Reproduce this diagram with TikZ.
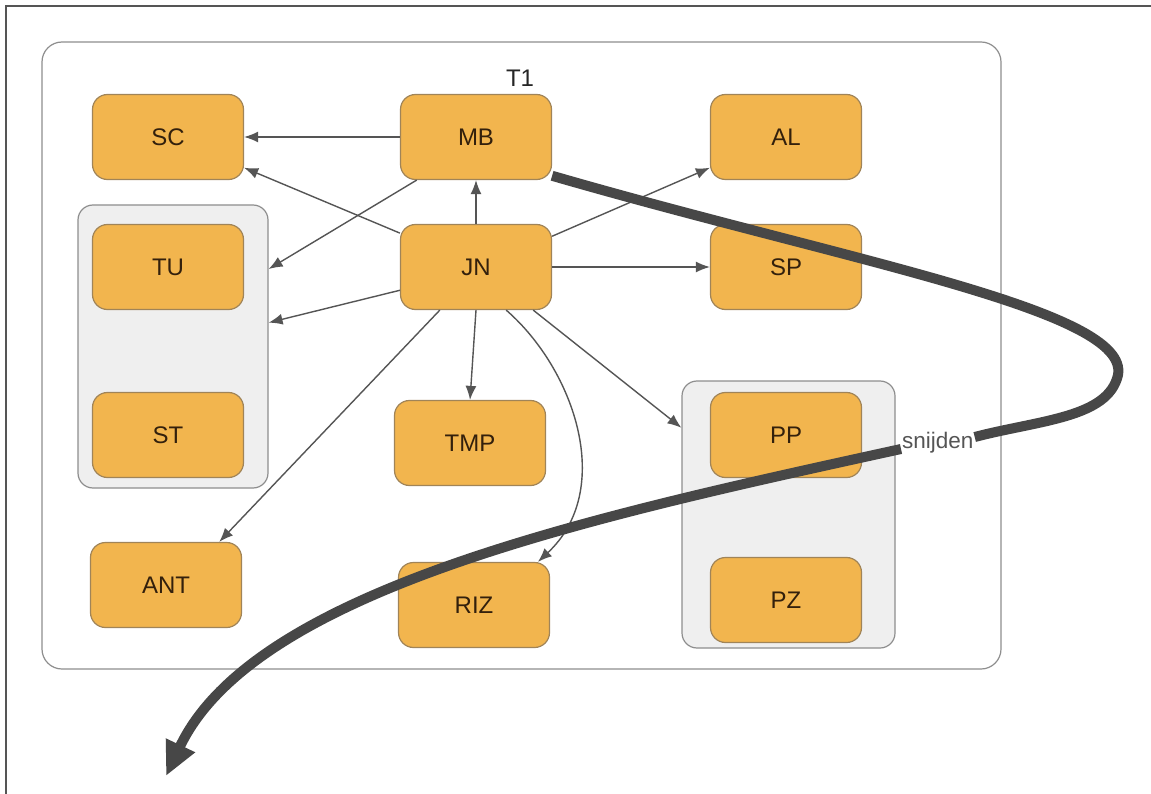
\documentclass[tikz,border=0pt]{standalone}
\usepackage{fontspec}
\setmainfont{Liberation Sans}
\usetikzlibrary{arrows.meta}
\definecolor{boxfill}{HTML}{F2B54E}
\definecolor{boxline}{HTML}{A08458}
\definecolor{boxtext}{HTML}{33200C}
\definecolor{grpfill}{HTML}{EFEFEF}
\definecolor{grpline}{HTML}{8E8E8E}
\definecolor{edgecol}{HTML}{555555}
\definecolor{thickcol}{HTML}{474747}
\tikzset{
  tnode/.style={draw=boxline, line width=1.2pt, fill=boxfill, rounded corners=15pt,
    minimum width=151pt, minimum height=85pt, inner sep=0pt, text=boxtext,
    font=\fontsize{24}{28}\selectfont},
  grp/.style={draw=grpline, line width=1.2pt, fill=grpfill, rounded corners=15pt, inner sep=0pt},
  edge/.style={draw=edgecol, line width=1.4pt, -{Latex[length=14pt,width=11pt]}},
  cutline/.style={draw=thickcol, line width=10pt},
}
\begin{document}
\begin{tikzpicture}[x=1pt,y=-1pt]
\useasboundingbox (0,0) rectangle (1151,794);
\fill[white] (0,0) rectangle (1151,794);
% frame
\draw[edgecol, line width=1.5pt] (6,794) -- (6,6) -- (1151,6);
% outer container
\draw[grpline, line width=1.2pt, rounded corners=20pt] (42,42) rectangle (1001,669);
\node[font=\fontsize{24}{28}\selectfont, text=black!85] (T1) at (520,78) {T1};
% groups
\node[grp, minimum width=190pt, minimum height=283pt] (grpL) at (173,346.5) {};
\node[grp, minimum width=213pt, minimum height=267pt] (grpR) at (788.5,514.5) {};
% nodes
\node[tnode] (SC) at (168,137) {SC};
\node[tnode] (MB) at (476,137) {MB};
\node[tnode] (AL) at (786,137) {AL};
\node[tnode] (TU) at (168,267) {TU};
\node[tnode] (JN) at (476,267) {JN};
\node[tnode] (SP) at (786,267) {SP};
\node[tnode] (ST) at (168,435) {ST};
\node[tnode] (TMP) at (470,443) {TMP};
\node[tnode] (PP) at (786,435) {PP};
\node[tnode] (ANT) at (166,585) {ANT};
\node[tnode] (RIZ) at (474,605) {RIZ};
\node[tnode] (PZ) at (786,600) {PZ};
% edges
\draw[edge] (MB.west) -- (SC.east);
\draw[edge] (JN.156) -- (SC.-22);
\draw[edge] (MB.-144) -- (grpL.39);
\draw[edge] (JN.197) -- (grpL.14);
\draw[edge] (JN.north) -- (MB.south);
\draw[edge] (JN.22) -- (AL.202);
\draw[edge] (JN.east) -- (SP.west);
\draw[edge] (JN.south) -- (TMP.north);
\draw[edge] (JN.-37) -- (grpR.141);
\draw[edge] (JN.-130) -- (ANT.39);
\draw[edge] (JN.-55) .. controls (575,370) and (615,490) .. (RIZ.34);
% thick cut curve
\node[font=\fontsize{22.5}{26}\selectfont, text=edgecol, inner sep=1pt, anchor=west] (cut) at (901,443) {snijden};
\coordinate (turn) at (1118,375);
\coordinate (tip) at (166,776);
\draw[cutline] (MB.-27) .. controls (850,262) and (1130,310) .. (turn)
  .. controls (1108,418) and (1040,420) .. ([yshift=6pt]cut.east);
\draw[cutline, -{Triangle[length=34pt,width=30pt]}] ([yshift=-6pt]cut.west) .. controls (600,515) and (255,588) .. (tip);
\end{tikzpicture}
\end{document}
